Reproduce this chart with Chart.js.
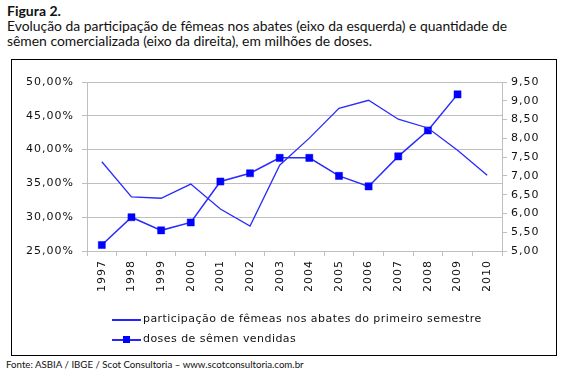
<!DOCTYPE html>
<html>
<head>
<meta charset="utf-8">
<script src="https://cdn.jsdelivr.net/npm/chart.js@4/dist/chart.umd.min.js"></script>
<style>
  body { margin: 0; background: #fff; width: 563px; height: 376px; position: relative; overflow: hidden; font-family: Lato, "DejaVu Sans", sans-serif; color: #111; }
  #title { position: absolute; left: 7px; top: 3px; font-size: 13.9px; line-height: 15px; }
  #title b { font-size: 14px; }
  #box { position: absolute; left: 11px; top: 59px; width: 544px; height: 295px; border: 1.5px solid #000; }
  #chartWrap { position: absolute; left: 13px; top: 61px; }
  .leg { position: absolute; left: 112px; font-family: "DejaVu Sans", sans-serif; font-size: 11px; letter-spacing: 0.45px; height: 14px; line-height: 14px; }
  .leg .sw { position: absolute; left: 0; top: 7px; width: 29px; height: 1.5px; background: #2525ff; }
  .leg .sq { position: absolute; left: 11px; top: -3px; width: 7px; height: 7px; background: #0000ff; }
  .leg .tx { position: absolute; left: 31px; top: 0; white-space: nowrap; }
  #fonte { position: absolute; left: 6px; top: 358px; font-size: 9.7px; white-space: nowrap; }
</style>
</head>
<body>
<div id="title"><b>Figura 2.</b><br>Evolução da participação de fêmeas nos abates (eixo da esquerda) e quantidade de<br>sêmen comercializada (eixo da direita), em milhões de doses.</div>
<div id="box"></div>
<div id="chartWrap"><canvas id="chart" width="542" height="292"></canvas></div>
<div class="leg" style="top:312px"><span class="sw"></span><span class="tx">participação de fêmeas nos abates do primeiro semestre</span></div>
<div class="leg" style="top:332px"><span class="sw"><span class="sq"></span></span><span class="tx">doses de sêmen vendidas</span></div>
<div id="fonte">Fonte: ASBIA / IBGE / Scot Consultoria – www.scotconsultoria.com.br</div>
<script>
const years = ['1997', '1998', '1999', '2000', '2001', '2002', '2003', '2004', '2005', '2006', '2007', '2008', '2009', '2010'];
// % of females in slaughter (left axis)
const femeas = [38.2, 33.0, 32.8, 34.9, 31.2, 28.7, 37.7, 41.7, 46.1, 47.3, 44.5, 43.2, 39.9, 36.2];
// semen doses sold, millions (right axis)
const doses = [5.16, 5.90, 5.55, 5.76, 6.85, 7.07, 7.48, 7.48, 7.00, 6.72, 7.52, 8.21, 9.17, null];

const tickFont = { family: 'DejaVu Sans', size: 11 };

// the original labels are spaced out a bit
const spacing = {
    id: 'spacing',
    beforeInit: c => { c.ctx.letterSpacing = '1px'; },
    beforeLayout: c => { c.ctx.letterSpacing = '1px'; },
    beforeDraw: c => { c.ctx.letterSpacing = '1px'; }
};

new Chart(document.getElementById('chart'), {
    type: 'line',
    data: {
        labels: years,
        datasets: [{
            label: 'participação de fêmeas nos abates do primeiro semestre',
            data: femeas,
            yAxisID: 'y',
            borderColor: '#2a2aff',
            borderWidth: 1.3,
            pointRadius: 0,
            tension: 0
        }, {
            label: 'doses de sêmen vendidas',
            data: doses,
            yAxisID: 'y1',
            borderColor: '#2a2aff',
            backgroundColor: '#0000ff',
            borderWidth: 1.5,
            pointStyle: 'rect',
            pointRadius: 5,
            pointBorderWidth: 0.5,
            pointBorderColor: '#0000ff',
            tension: 0
        }]
    },
    plugins: [spacing],
    options: {
        responsive: false,
        animation: false,
        layout: { padding: { top: 21, bottom: 62, left: 0, right: 0 } },
        plugins: { legend: { display: false }, tooltip: { enabled: false } },
        scales: {
            x: {
                offset: true,
                grid: { offset: true, drawOnChartArea: false, color: '#bfbfbf', tickLength: 5 },
                border: { color: '#bfbfbf' },
                ticks: { minRotation: 90, maxRotation: 90, color: '#111', font: tickFont, padding: 4 },
                afterFit: s => { s.height = 40; }
            },
            y: {
                position: 'left',
                min: 25, max: 50,
                ticks: { stepSize: 5, color: '#111', font: tickFont, padding: 8,
                    callback: v => v.toFixed(2).replace('.', ',') + '%' },
                grid: { color: '#bfbfbf', tickLength: 5 },
                border: { color: '#bfbfbf' },
                afterFit: s => { s.width = 74; }
            },
            y1: {
                position: 'right',
                min: 5, max: 9.5,
                ticks: { stepSize: 0.5, color: '#111', font: tickFont, padding: 4,
                    callback: v => v.toFixed(2).replace('.', ',') },
                grid: { drawOnChartArea: false, color: '#bfbfbf', tickLength: 5 },
                border: { color: '#bfbfbf' },
                afterFit: s => { s.width = 53; }
            }
        }
    }
});
</script>
</body>
</html>
